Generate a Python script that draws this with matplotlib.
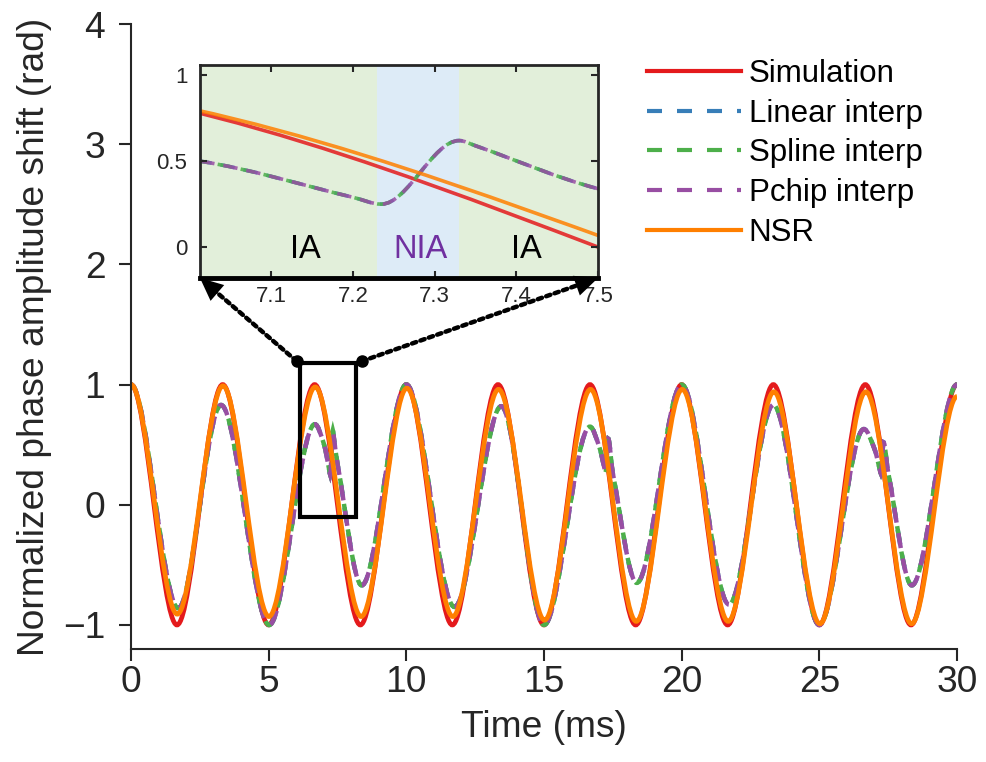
"""
    Simulation vs interpolation vs NSR: normalized phase amplitude shift over time
"""

import numpy as np
import matplotlib
matplotlib.use('Agg')
import matplotlib.pyplot as plt
from matplotlib.path import Path
from matplotlib.patches import PathPatch, Rectangle, ConnectionPatch
from matplotlib.lines import Line2D

plt.rcParams['font.family'] = ['Liberation Sans', 'DejaVu Sans']

# ---- data (extrema / knots of each trace) ----
sim_t = [0.0, 1.67, 3.33, 5.0, 6.67, 8.33, 10.0, 11.67, 13.33, 15.0,
         16.67, 18.33, 20.0, 21.67, 23.33, 25.0, 26.67, 28.33, 30.0]
sim_v = [1.0, -1.0, 1.0, -1.0, 1.0, -1.0, 1.0, -1.0, 1.0, -1.0,
         1.0, -1.0, 1.0, -1.0, 1.0, -1.0, 1.0, -1.0, 1.0]

nsr_t = [0.0, 1.68, 3.34, 5.01, 6.69, 8.36, 10.02, 11.69, 13.35, 15.02,
         16.69, 18.35, 20.02, 21.69, 23.35, 25.02, 26.69, 28.35, 30.0]
nsr_v = [1.0, -0.91, 0.99, -0.93, 0.98, -0.93, 0.97, -0.93, 0.96, -0.96,
         0.96, -0.97, 0.96, -0.97, 0.94, -0.99, 0.94, -0.99, 0.90]

# linear / spline / pchip reconstructions coincide on the picture
interp_t = [0.0, 1.72, 3.27, 5.02, 6.68, 7.013, 7.2, 7.235, 7.33, 7.35, 7.5, 8.38,
            10.0, 11.75, 13.45, 15.0, 16.67, 17.01, 17.2, 17.235, 17.33, 17.5, 18.37,
            20.0, 21.72, 23.33, 25.0, 26.62, 27.01, 27.2, 27.235, 27.33, 27.5, 28.36,
            30.0]
interp_v = [1.0, -0.86, 0.83, -1.0, 0.67, 0.50, 0.29, 0.25, 0.62, 0.59, 0.34, -0.67,
            1.0, -0.85, 0.82, -1.0, 0.65, 0.48, 0.30, 0.27, 0.55, 0.26, -0.65,
            1.0, -0.83, 0.83, -1.0, 0.63, 0.46, 0.29, 0.26, 0.52, 0.27, -0.67,
            1.0]

region_edges = [7.013, 7.23, 7.33, 7.5]
region_names = ['IA', 'NIA', 'IA']

labels = ['Simulation', 'Linear interp', 'Spline interp', 'Pchip interp', 'NSR']
c_sim, c_lin, c_spl, c_pch, c_nsr = '#e41a1c', '#377eb8', '#4daf4a', '#984ea3', '#ff7f00'
dark = '#262626'


def smooth_path(t, v):
    # cubic bezier through the knots; flat tangent at local extrema
    t = np.asarray(t, float)
    v = np.asarray(v, float)
    n = len(t)
    m = np.zeros(n)
    for i in range(1, n - 1):
        if (v[i] - v[i - 1]) * (v[i + 1] - v[i]) > 0:
            m[i] = (v[i + 1] - v[i - 1]) / (t[i + 1] - t[i - 1])
    verts = [(t[0], v[0])]
    codes = [Path.MOVETO]
    for i in range(n - 1):
        h = (t[i + 1] - t[i]) / 3
        verts += [(t[i] + h, v[i] + h * m[i]),
                  (t[i + 1] - h, v[i + 1] - h * m[i + 1]),
                  (t[i + 1], v[i + 1])]
        codes += [Path.CURVE4] * 3
    return Path(verts, codes)


def draw_traces(ax, lw, dlw, dash, alpha=1.0):
    ax.add_patch(PathPatch(smooth_path(sim_t, sim_v), fill=False, ec=c_sim, lw=lw, alpha=alpha))
    for c, off in [(c_lin, 0.8), (c_spl, 1.6), (c_pch, 0)]:
        ax.add_patch(PathPatch(smooth_path(interp_t, interp_v), fill=False, ec=c, lw=dlw,
                               alpha=alpha, linestyle=(off, dash)))
    ax.add_patch(PathPatch(smooth_path(nsr_t, nsr_v), fill=False, ec=c_nsr, lw=lw, alpha=alpha))


fig = plt.figure(figsize=(9.87, 7.62), dpi=100)

# ---- main axes ----
ax = fig.add_axes([131 / 987, 1 - 649 / 762, 826 / 987, 625 / 762])
draw_traces(ax, 3.4, 3.2, (3.4, 2.4))
ax.set_xlim(0, 30)
ax.set_ylim(-1.2, 4)
ax.set_xticks(np.arange(0, 31, 5))
ax.set_yticks(np.arange(-1, 5, 1))
for s in ['top', 'right']:
    ax.spines[s].set_visible(False)
for s in ['left', 'bottom']:
    ax.spines[s].set_linewidth(1.5)
    ax.spines[s].set_color(dark)
ax.tick_params(direction='out', length=8.5, width=1.5, colors=dark, labelsize=26.7)
ax.tick_params(axis='x', pad=3)
ax.tick_params(axis='y', pad=10)
ax.set_xlabel('Time (ms)', fontsize=26.7, color=dark, labelpad=7)
ax.set_ylabel('Normalized phase amplitude shift (rad)', fontsize=26.7, color=dark, labelpad=8)

# zoom box and its anchor dots
ax.add_patch(Rectangle((6.14, -0.1), 2.03, 1.28, fill=False, ec='k', lw=3, zorder=5))
dot_x = [6.02, 8.38]
dot_y = [1.194, 1.194]
ax.plot(dot_x, dot_y, 'o', color='k', ms=8, clip_on=False, zorder=6)

# legend
leg_dash = (0, (3.6, 3.6))
handles = [Line2D([], [], color=c_sim, lw=3),
           Line2D([], [], color=c_lin, lw=3, linestyle=leg_dash),
           Line2D([], [], color=c_spl, lw=3, linestyle=leg_dash),
           Line2D([], [], color=c_pch, lw=3, linestyle=leg_dash),
           Line2D([], [], color=c_nsr, lw=3)]
ax.legend(handles, labels, loc='upper left', bbox_to_anchor=(647 / 987, 1 - 59 / 762),
          bbox_transform=fig.transFigure, frameon=False, fontsize=22.5,
          handlelength=3.0, handletextpad=0.25, labelspacing=0.31,
          borderpad=0, borderaxespad=0)

# ---- inset ----
axins = fig.add_axes([200 / 987, 1 - 278 / 762, 398 / 987, 213 / 762])
region_colors = ['#e2efda', '#ddebf7', '#e2efda']
for i in range(len(region_names)):
    axins.axvspan(region_edges[i], region_edges[i + 1], color=region_colors[i], lw=0, zorder=0)
draw_traces(axins, 2.6, 2.6, (4.0, 2.5), alpha=0.85)
name_x = [7.142, 7.283, 7.412]
for x, name in zip(name_x, region_names):
    axins.text(x, -0.065, name, ha='center', va='baseline', fontsize=23.5,
               color='#7030a0' if name == 'NIA' else 'k')
axins.set_xlim(7.013, 7.5)
axins.set_ylim(-0.18, 1.06)
axins.set_xticks([7.1, 7.2, 7.3, 7.4, 7.5])
axins.set_yticks([0, 0.5, 1])
axins.set_xticklabels(['7.1', '7.2', '7.3', '7.4', '7.5'])
axins.set_yticklabels(['0', '0.5', '1'])
axins.tick_params(direction='in', top=True, right=True, length=5, width=1.5,
                  colors=dark, labelsize=16)
axins.tick_params(axis='x', pad=6)
axins.tick_params(axis='y', pad=9)
for s in axins.spines.values():
    s.set_linewidth(2)
    s.set_color(dark)
axins.spines['bottom'].set_linewidth(3.5)
axins.spines['bottom'].set_color('k')

# dotted lines from the zoom box to the inset corners, solid heads on top
for x, y, corner in zip(dot_x, dot_y, [(0, 0), (1, 0)]):
    line = ConnectionPatch(xyA=(x, y), coordsA=ax.transData, xyB=corner, coordsB=axins.transAxes,
                           arrowstyle='-', lw=3.2, linestyle=(0, (1, 1)), color='k',
                           shrinkA=0, shrinkB=6, zorder=10)
    head = ConnectionPatch(xyA=(x, y), coordsA=ax.transData, xyB=corner, coordsB=axins.transAxes,
                           arrowstyle='-|>,head_length=0.55,head_width=0.25', mutation_scale=30,
                           lw=0.01, color='k', fc='k', shrinkA=0, shrinkB=0, zorder=11)
    fig.add_artist(line)
    fig.add_artist(head)

plt.savefig('out.png', dpi=100)
